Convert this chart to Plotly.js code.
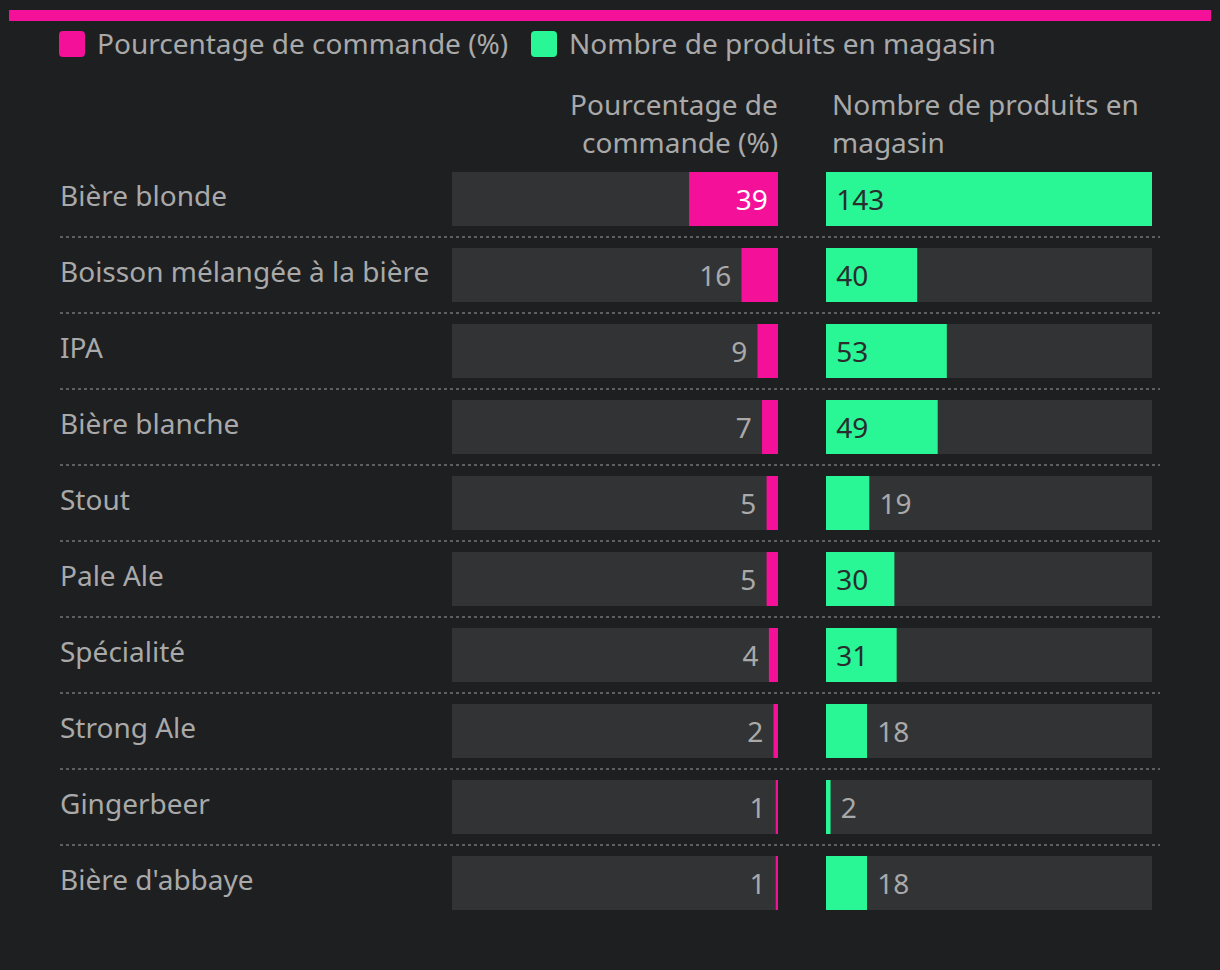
<!DOCTYPE html>
<html lang="fr">
<head>
    <meta charset="UTF-8">
    <title>Bières</title>
    <script src="https://cdn.plot.ly/plotly-3.0.1.min.js"></script>
    <style>
        html, body { margin: 0; padding: 0; background: #1e1f21; }
        #chart { width: 1220px; height: 970px; }
    </style>
</head>
<body>
<div id="chart"></div>
<script>
    var categories = ["Bière blonde", "Boisson mélangée à la bière", "IPA", "Bière blanche", "Stout",
        "Pale Ale", "Spécialité", "Strong Ale", "Gingerbeer", "Bière d'abbaye"];
    var pctCommande = [39, 16, 9, 7, 5, 5, 4, 2, 1, 1];
    var nbProduits = [143, 40, 53, 49, 19, 30, 31, 18, 2, 18];
    var seriesNames = ["Pourcentage de commande (%)", "Nombre de produits en magasin"];

    var W = 1220, H = 970;
    function px(x) { return x / W; }
    function py(y) { return 1 - y / H; }

    var pink = '#f5109a', green = '#29f694', track = '#323335', grey = '#a9a9a9';
    var font = 'Noto Sans, sans-serif';
    var fs = 28;
    var NB = '\u00a0';
    var maxVal = Math.max.apply(null, pctCommande.concat(nbProduits));
    var trackPx = 326;

    function positions(vals) {
        return vals.map(function (v) { return v / maxVal * trackPx > 55 ? 'inside' : 'outside'; });
    }

    var barWidth = 0.71;
    var full = categories.map(function () { return maxVal; });

    var traces = [
        { type: 'bar', orientation: 'h', x: full, y: categories, xaxis: 'x', yaxis: 'y',
          marker: { color: track }, width: barWidth, hoverinfo: 'skip', showlegend: false },
        { type: 'bar', orientation: 'h', x: full, y: categories, xaxis: 'x2', yaxis: 'y',
          marker: { color: track }, width: barWidth, hoverinfo: 'skip', showlegend: false },
        { type: 'bar', orientation: 'h', name: seriesNames[0], x: pctCommande, y: categories,
          xaxis: 'x', yaxis: 'y', marker: { color: pink }, width: barWidth,
          text: pctCommande.map(function (v) { return v + NB; }), textposition: positions(pctCommande),
          insidetextanchor: 'start', constraintext: 'none', cliponaxis: false,
          insidetextfont: { color: '#ffffff', size: fs, family: font },
          outsidetextfont: { color: grey, size: fs, family: font }, showlegend: false },
        { type: 'bar', orientation: 'h', name: seriesNames[1], x: nbProduits, y: categories,
          xaxis: 'x2', yaxis: 'y', marker: { color: green }, width: barWidth,
          text: nbProduits.map(function (v) { return NB + v; }), textposition: positions(nbProduits),
          insidetextanchor: 'start', constraintext: 'none', cliponaxis: false,
          insidetextfont: { color: '#2a2c2e', size: fs, family: font },
          outsidetextfont: { color: grey, size: fs, family: font }, showlegend: false }
    ];

    var shapes = [
        { type: 'rect', xref: 'paper', yref: 'paper', x0: px(9), x1: px(1211), y0: py(21), y1: py(10),
          fillcolor: pink, line: { width: 0 } }
    ];
    for (var i = 0; i < categories.length - 1; i++) {
        shapes.push({ type: 'line', xref: 'paper', yref: 'y', x0: px(60), x1: px(1160), y0: i + 0.5, y1: i + 0.5,
            line: { color: '#5e5f62', width: 2, dash: 'dot' } });
    }
    var rounded = 'M -9 -13 L 9 -13 Q 13 -13 13 -9 L 13 9 Q 13 13 9 13 L -9 13 Q -13 13 -13 9 L -13 -9 Q -13 -13 -9 -13 Z';
    [[72, pink], [544, green]].forEach(function (s) {
        shapes.push({ type: 'path', xref: 'paper', yref: 'paper', xsizemode: 'pixel', ysizemode: 'pixel',
            xanchor: px(s[0]), yanchor: py(44), path: rounded, fillcolor: s[1], line: { width: 0 } });
    });

    var txt = { family: font, size: fs, color: grey };
    var annotations = [
        { text: seriesNames[0], x: px(95), y: py(43), xanchor: 'left', yanchor: 'middle' },
        { text: seriesNames[1], x: px(567), y: py(43), xanchor: 'left', yanchor: 'middle' },
        { text: 'Pourcentage de', x: px(780), y: py(104), xanchor: 'right', yanchor: 'middle' },
        { text: 'commande (%)', x: px(780), y: py(142), xanchor: 'right', yanchor: 'middle' },
        { text: 'Nombre de produits en', x: px(830), y: py(104), xanchor: 'left', yanchor: 'middle' },
        { text: 'magasin', x: px(830), y: py(142), xanchor: 'left', yanchor: 'middle' }
    ].map(function (a) {
        a.xref = 'paper'; a.yref = 'paper'; a.showarrow = false; a.font = txt;
        return a;
    });

    var layout = {
        width: W, height: H,
        margin: { l: 0, r: 0, t: 0, b: 0, pad: 0 },
        paper_bgcolor: '#1e1f21', plot_bgcolor: 'rgba(0,0,0,0)',
        barmode: 'overlay', showlegend: false,
        font: { family: font, color: grey },
        xaxis: { domain: [px(452), px(778)], range: [maxVal, 0], visible: false, fixedrange: true },
        xaxis2: { domain: [px(826), px(1152)], range: [0, maxVal], visible: false, fixedrange: true },
        yaxis: { domain: [py(921), py(161)], type: 'category', categoryarray: categories,
                 range: [categories.length - 0.5, -0.5], anchor: 'free', position: px(56),
                 ticklabelposition: 'inside', ticklabelshift: 3, ticks: '', showgrid: false,
                 zeroline: false, showline: false,
                 tickfont: { family: font, size: fs, color: grey }, automargin: false, fixedrange: true },
        shapes: shapes,
        annotations: annotations
    };

    Plotly.newPlot('chart', traces, layout, { displayModeBar: false, staticPlot: true });
</script>
</body>
</html>
